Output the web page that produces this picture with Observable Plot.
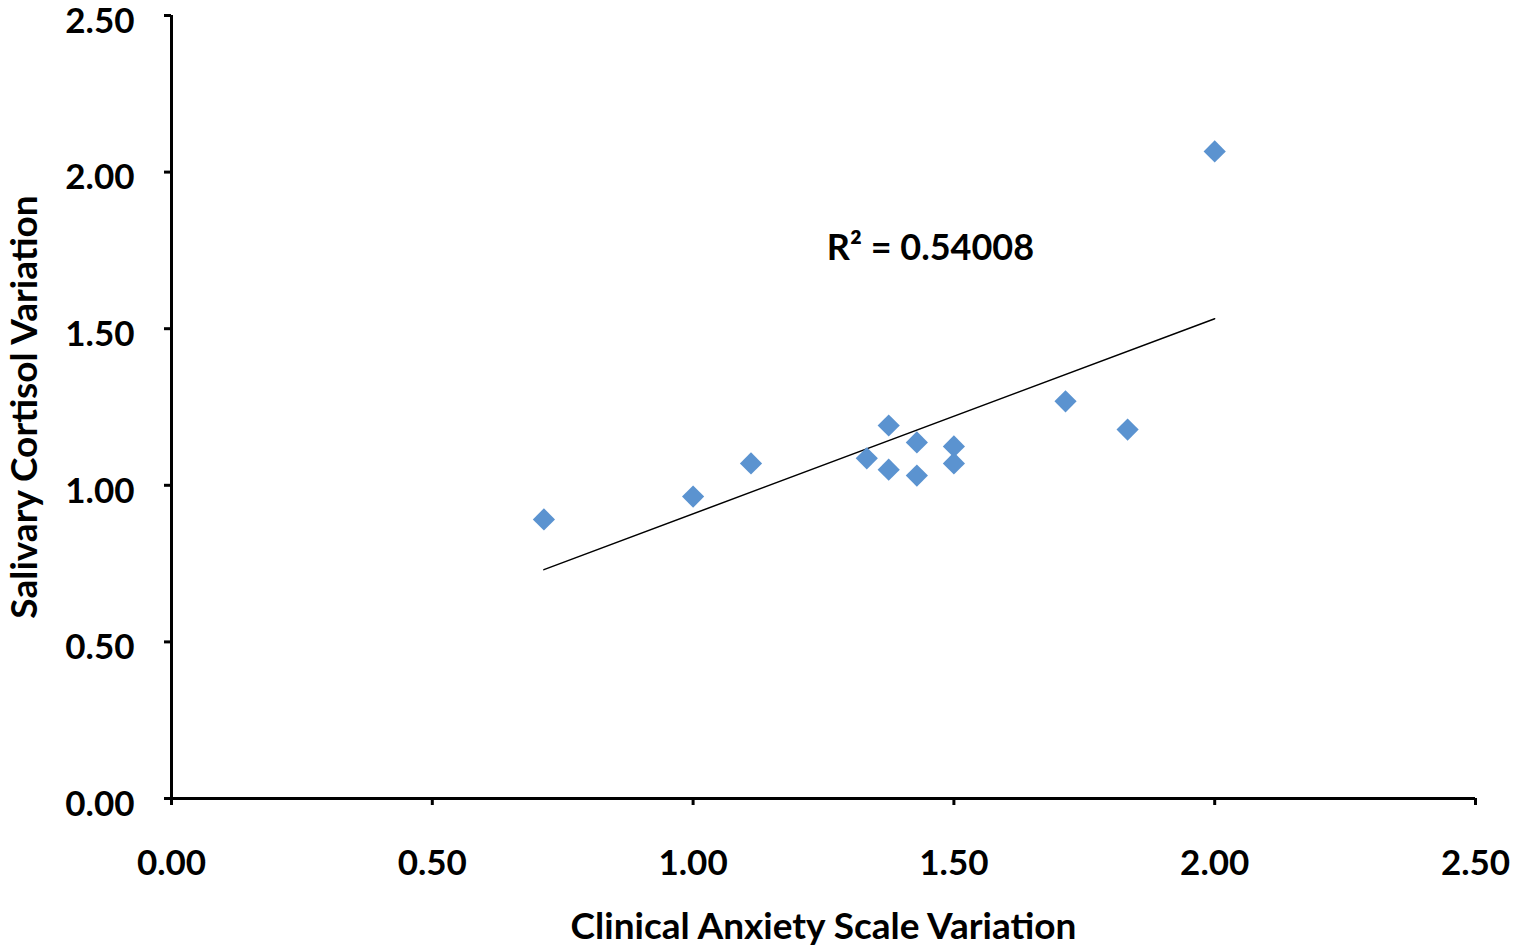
<!DOCTYPE html>
<html>
<head>
<meta charset="utf-8">
<script src="https://cdn.jsdelivr.net/npm/d3@7"></script>
<script src="https://cdn.jsdelivr.net/npm/@observablehq/plot@0.6"></script>
<style>
  html, body { margin: 0; padding: 0; background: #fff; }
  svg { display: block; }
</style>
</head>
<body>
<div id="chart"></div>
<script>
// Data
const anxiety = [0.714, 1.000, 1.111, 1.333, 1.375, 1.375, 1.429, 1.429, 1.500, 1.500, 1.714, 1.833, 2.000];
const cortisol = [0.891, 0.964, 1.070, 1.086, 1.191, 1.050, 1.137, 1.031, 1.124, 1.070, 1.268, 1.178, 2.066];
const xTicks = [0, 0.5, 1.0, 1.5, 2.0, 2.5];
const yTicks = [0, 0.5, 1.0, 1.5, 2.0, 2.5];
const xLabel = "Clinical Anxiety Scale Variation";
const yLabel = "Salivary Cortisol Variation";
const annotationText = ["R² = 0.54008"];
const annotationX = [1.455];
const annotationY = [1.756];

const points = anxiety.map((x, i) => ({x, y: cortisol[i]}));
const notes = annotationText.map((t, i) => ({t, x: annotationX[i], y: annotationY[i]}));

const font = "Lato, 'Open Sans', sans-serif";
const fmt = d3.format(".2f");

const chart = Plot.plot({
  width: 1514,
  height: 952,
  marginLeft: 171,
  marginRight: 39,
  marginTop: 15,
  marginBottom: 154,
  style: {fontFamily: font, fontWeight: "bold", background: "#fff", color: "#000"},
  x: {domain: [0, 2.5]},
  y: {domain: [0, 2.5]},
  marks: [
    Plot.axisX({ticks: xTicks, tickFormat: fmt, tickSize: 7, strokeWidth: 3, tickPadding: 45, fontSize: 35, fontWeight: "bold", label: null}),
    Plot.axisY({ticks: yTicks, tickFormat: () => "", tickSize: 7, strokeWidth: 3, label: null}),
    Plot.axisY({ticks: yTicks, tickFormat: fmt, tickSize: 0, tickPadding: 37, dy: 6, fontSize: 35, fontWeight: "bold", label: null}),
    Plot.ruleY([0], {stroke: "#000", strokeWidth: 3}),
    Plot.ruleX([0], {stroke: "#000", strokeWidth: 3}),
    Plot.linearRegressionY(points, {x: "x", y: "y", ci: 0, stroke: "#000", strokeWidth: 1.5}),
    Plot.dot(points, {x: "x", y: "y", symbol: "diamond2", r: 10, fill: "#5b93d0", stroke: "none"}),
    Plot.text(notes, {x: "x", y: "y", text: "t", fontSize: 36, fontWeight: "bold", fill: "#000"}),
    Plot.text([xLabel], {frameAnchor: "bottom", dy: 140, textAnchor: "middle", fontSize: 37, fontWeight: "bold", fill: "#000"}),
    Plot.text([yLabel], {frameAnchor: "left", dx: -146, rotate: -90, textAnchor: "middle", fontSize: 37, fontWeight: "bold", fill: "#000"})
  ]
});
document.getElementById("chart").appendChild(chart);
</script>
</body>
</html>
